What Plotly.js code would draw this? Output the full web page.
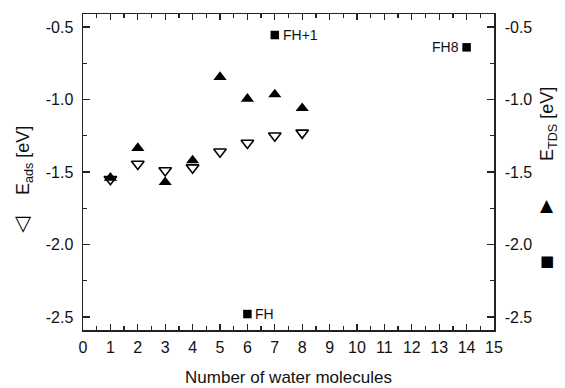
<!DOCTYPE html>
<html><head><meta charset="utf-8">
<script src="https://cdn.plot.ly/plotly-3.0.1.min.js"></script>
<style>html,body{margin:0;padding:0;background:#fff}#c{width:565px;height:388px}</style>
</head><body><div id="c"></div>
<script>
var nWater = [1, 2, 3, 4, 5, 6, 7, 8];
var eAds = [-1.55, -1.445, -1.49, -1.47, -1.36, -1.30, -1.25, -1.23];
var eTds = [-1.54, -1.335, -1.57, -1.42, -0.845, -0.995, -0.965, -1.06];
var fhX = [7, 14, 6];
var fhY = [-0.555, -0.64, -2.48];
var fhLabels = ['FH+1', 'FH8', 'FH'];
var xTicks = [0,1,2,3,4,5,6,7,8,9,10,11,12,13,14,15];
var yTicks = [-2.5, -2.0, -1.5, -1.0, -0.5];
var yTickText = ['-2.5', '-2.0', '-1.5', '-1.0', '-0.5'];

var fam = 'Liberation Sans, Arial, sans-serif';
var font = {family: fam, size: 16, color: '#111'};
var traces = [
  {x: nWater, y: eAds, mode: 'markers', type: 'scatter',
   marker: {symbol: 'triangle-down-open', size: 11, color: '#000', line: {width: 1.6, color: '#000'}}},
  {x: nWater, y: eTds, mode: 'markers', type: 'scatter', yaxis: 'y2',
   marker: {symbol: 'triangle-up', size: 11.5, color: '#000'}},
  {x: fhX, y: fhY, mode: 'markers', type: 'scatter', yaxis: 'y2',
   marker: {symbol: 'square', size: 8.5, color: '#000'}}
];
var anns = [];
var shifts = [[6, 'left'], [-6, 'right'], [6, 'left']];
for (var i = 0; i < fhX.length; i++) {
  anns.push({x: fhX[i], y: fhY[i], xref: 'x', yref: 'y2', text: fhLabels[i], showarrow: false,
    xanchor: shifts[i][1], yanchor: 'middle', xshift: shifts[i][0], font: {family: fam, size: 14, color: '#111'}});
}
function paperAnn(x, y, text, size, extra) {
  return Object.assign({x: x, y: y, xref: 'paper', yref: 'paper', text: text, showarrow: false,
    xanchor: 'center', yanchor: 'middle', font: {family: fam, size: size, color: '#111'}}, extra || {});
}
anns.push(
  paperAnn(-0.141, 0.535, 'E<sub>ads</sub> [eV]', 18, {textangle: -90}),
  paperAnn(1.134, 0.652, 'E<sub>TDS</sub> [eV]', 18, {textangle: -90}),
  paperAnn(-0.144, 0.339, '▽', 21, {font: {family: 'DejaVu Sans', size: 21, color: '#000'}}),
  paperAnn(1.129, 0.396, '▲', 17, {font: {family: 'DejaVu Sans', size: 17, color: '#000'}}),
  paperAnn(1.129, 0.218, '■', 15, {font: {family: 'DejaVu Sans', size: 15, color: '#000'}})
);
var axCommon = {showline: true, linewidth: 1.5, linecolor: '#222', showgrid: false, zeroline: false,
  ticks: 'inside', tickwidth: 1.3, tickcolor: '#222', ticklen: 7};
var layout = {
  width: 565, height: 388,
  margin: {l: 83, r: 71, t: 14, b: 58},
  paper_bgcolor: '#fff', plot_bgcolor: '#fff',
  showlegend: false,
  font: font,
  xaxis: Object.assign({}, axCommon, {range: [0, 15], tickvals: xTicks, ticklen: 6, mirror: 'ticks',
    ticklabelstandoff: 2,
    minor: {ticks: 'inside', ticklen: 4, dtick: 0.5, tick0: 0, tickwidth: 1.3, tickcolor: '#222'},
    title: {text: 'Number of water molecules', font: {family: fam, size: 17}, standoff: 16}}),
  yaxis: Object.assign({}, axCommon, {range: [-2.59, -0.41], tickvals: yTicks, ticktext: yTickText,
    ticklabelstandoff: 5,
    minor: {ticks: 'inside', ticklen: 4, dtick: 0.25, tick0: 0, tickwidth: 1.3, tickcolor: '#222'}}),
  yaxis2: Object.assign({}, axCommon, {range: [-2.59, -0.41], overlaying: 'y', side: 'right',
    tickvals: yTicks, ticktext: yTickText, ticklabelstandoff: 6,
    minor: {ticks: 'inside', ticklen: 4, dtick: 0.25, tick0: 0, tickwidth: 1.3, tickcolor: '#222'}}),
  annotations: anns
};
Plotly.newPlot('c', traces, layout, {displayModeBar: false, staticPlot: true});
</script></body></html>
